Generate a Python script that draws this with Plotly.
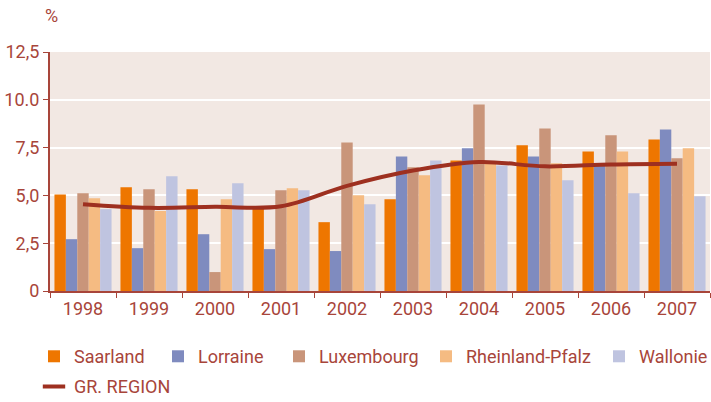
import plotly.graph_objects as go

years = ["1998", "1999", "2000", "2001", "2002", "2003", "2004", "2005", "2006", "2007"]

saarland = [5.05, 5.42, 5.32, 4.45, 3.60, 4.80, 6.83, 7.62, 7.30, 7.93]
lorraine = [2.71, 2.24, 2.97, 2.19, 2.09, 7.04, 7.46, 7.04, 6.60, 8.45]
luxembourg = [5.11, 5.32, 0.99, 5.27, 7.77, 6.47, 9.75, 8.50, 8.14, 6.94]
rheinland_pfalz = [4.85, 4.19, 4.80, 5.37, 5.01, 6.05, 6.70, 6.68, 7.30, 7.46]
wallonie = [4.28, 6.00, 5.63, 5.27, 4.54, 6.83, 6.57, 5.79, 5.11, 4.96]
gr_region = [4.54, 4.35, 4.40, 4.43, 5.50, 6.30, 6.75, 6.52, 6.62, 6.66]

y_ticks = [0, 2.5, 5, 7.5, 10, 12.5]
y_labels = ["0", "2,5", "5,0", "7,5", "10.0", "12,5"]

text_col = "#a8453a"
line_col = "#9e3020"
font = "Roboto, sans-serif"

# name, values, colour, legend left edge (px)
bar_series = [
    ("Saarland", saarland, "#ee7600", 34),
    ("Lorraine", lorraine, "#7f8bbf", 158),
    ("Luxembourg", luxembourg, "#c9957a", 279),
    ("Rheinland-Pfalz", rheinland_pfalz, "#f5bb82", 426),
    ("Wallonie", wallonie, "#bfc4e0", 599),
]

W, H = 711, 402


def legend_box(x_px, y):
    return dict(orientation="h", xref="container", yref="container",
                x=x_px / W, y=y, xanchor="left", yanchor="top",
                font=dict(size=18, color=text_col), bgcolor="rgba(0,0,0,0)")


fig = go.Figure()
legends = {}
for i, (name, vals, col, lx) in enumerate(bar_series):
    key = f"legend{i + 2}"
    fig.add_trace(go.Bar(x=years, y=vals, name=name, legend=key,
                         marker=dict(color=col, line=dict(width=0))))
    legends[key] = legend_box(lx, 0.159)

fig.add_trace(go.Scatter(x=years, y=gr_region, name="GR. REGION", mode="lines",
                         line=dict(color=line_col, width=4, shape="spline", smoothing=1.0),
                         showlegend=False))
# short legend key for the line
fig.add_trace(go.Scatter(x=[None], y=[None], name="GR. REGION", mode="markers",
                         marker=dict(symbol="line-ew", size=16,
                                     line=dict(color=line_col, width=4)),
                         legend="legend7"))
legends["legend7"] = legend_box(34, 0.084)

fig.update_layout(
    width=W, height=H,
    margin=dict(l=50, r=1, t=52, b=111),
    paper_bgcolor="white",
    plot_bgcolor="#f2e8e3",
    barmode="group",
    bargap=0.135,
    bargroupgap=0,
    showlegend=True,
    font=dict(family=font, size=18, color=text_col),
    annotations=[dict(text="%", xref="paper", yref="paper", x=0.003, y=1.1,
                      xanchor="center", yanchor="bottom", showarrow=False,
                      font=dict(size=18, color=text_col))],
    **legends,
)

fig.update_xaxes(type="category", showline=True, linecolor=text_col, linewidth=2,
                 ticks="outside", tickson="boundaries", ticklen=5, tickcolor=text_col,
                 showgrid=False, tickfont=dict(size=18, color=text_col))
fig.update_yaxes(range=[0, 12.5], tickvals=y_ticks, ticktext=y_labels,
                 showline=True, linecolor=text_col, linewidth=2,
                 ticks="outside", ticklen=5, tickcolor=text_col,
                 gridcolor="white", gridwidth=1.5, zeroline=False,
                 tickfont=dict(size=18, color=text_col))

fig.write_html("out.html", config={"displayModeBar": False},
               post_script="document.body.style.margin='0';")
